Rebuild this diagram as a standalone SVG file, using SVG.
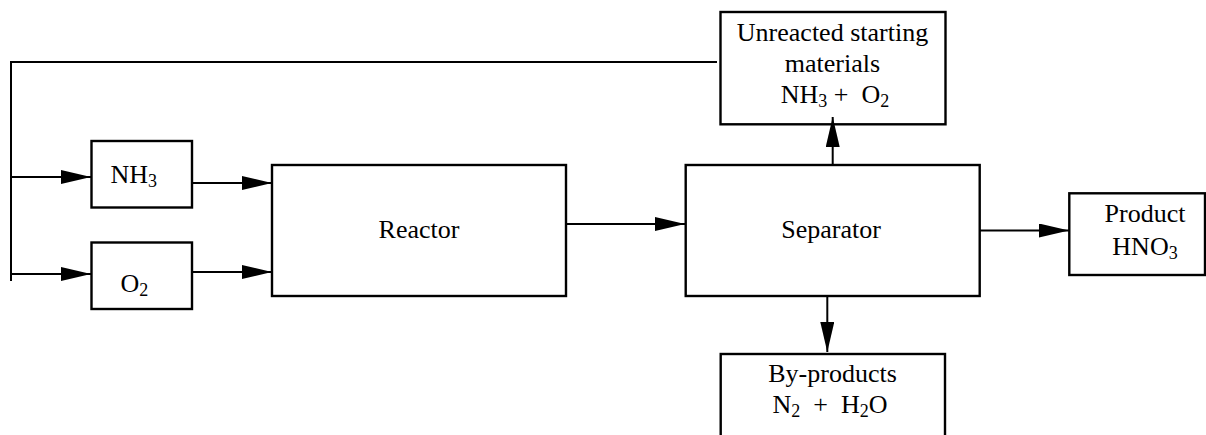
<svg xmlns="http://www.w3.org/2000/svg" width="1206" height="435" viewBox="0 0 1206 435">
<style>
.box{fill:#fff;stroke:#000;stroke-width:2.4}
.ln{fill:none;stroke:#000;stroke-width:2}
.t{font-family:"Liberation Serif","Times New Roman",serif;font-size:26px;fill:#000}
.m{text-anchor:middle}
.s{font-size:18px}
</style>
<defs>
<marker id="ah" viewBox="0 0 30 14" refX="30" refY="7" markerWidth="30" markerHeight="14" markerUnits="userSpaceOnUse" orient="auto">
<path d="M0,0 L30,7 L0,14 Z" fill="#000"/>
</marker>
</defs>
<rect width="1206" height="435" fill="#fff"/>
<g id="nh3">
<rect class="box" x="91.5" y="141" width="100.5" height="66.5"/>
<text class="t" x="110.5" y="183">NH<tspan class="s" dy="4">3</tspan></text>
</g>
<g id="o2">
<rect class="box" x="91.5" y="242.5" width="100.5" height="66.5"/>
<text class="t" x="120.5" y="291.5">O<tspan class="s" dy="4">2</tspan></text>
</g>
<g id="reactor">
<rect class="box" x="272" y="165" width="294" height="131"/>
<text class="t m" x="419" y="238">Reactor</text>
</g>
<g id="separator">
<rect class="box" x="685.7" y="165" width="294" height="131"/>
<text class="t m" x="831" y="238">Separator</text>
</g>
<g id="unreacted">
<rect class="box" x="720.5" y="12" width="225" height="112.3"/>
<text class="t m" x="832.5" y="40.7">Unreacted starting</text>
<text class="t m" x="832.5" y="71.7">materials</text>
<text class="t m" x="835" y="102.7" xml:space="preserve">NH<tspan class="s" dy="4">3</tspan><tspan dy="-4"> +  O</tspan><tspan class="s" dy="4">2</tspan></text>
</g>
<g id="product">
<rect class="box" x="1069.3" y="193.3" width="135.7" height="81.7"/>
<text class="t m" x="1145" y="221.7">Product</text>
<text class="t m" x="1145" y="255">HNO<tspan class="s" dy="4">3</tspan></text>
</g>
<g id="byproducts">
<rect class="box" x="720.7" y="354" width="224.3" height="100"/>
<text class="t m" x="832.5" y="381.7">By-products</text>
<text class="t m" x="830" y="412.7" xml:space="preserve">N<tspan class="s" dy="4">2</tspan><tspan dy="-4">  +  H</tspan><tspan class="s" dy="4">2</tspan><tspan dy="-4">O</tspan></text>
</g>
<g id="connectors">
<polyline class="ln" points="717,62 11,62 11,281"/>
<line class="ln" x1="11" y1="177" x2="91" y2="177" marker-end="url(#ah)"/>
<line class="ln" x1="11" y1="274" x2="91" y2="274" marker-end="url(#ah)"/>
<line class="ln" x1="193" y1="183" x2="272" y2="183" marker-end="url(#ah)"/>
<line class="ln" x1="193" y1="272" x2="272" y2="272" marker-end="url(#ah)"/>
<line class="ln" x1="566" y1="224" x2="685" y2="224" marker-end="url(#ah)"/>
<line class="ln" x1="980" y1="230.5" x2="1069" y2="230.5" marker-end="url(#ah)"/>
<line class="ln" x1="827.3" y1="296" x2="827.3" y2="352" marker-end="url(#ah)"/>
<line class="ln" x1="832.7" y1="165" x2="832.7" y2="117" marker-end="url(#ah)"/>
</g>
</svg>
